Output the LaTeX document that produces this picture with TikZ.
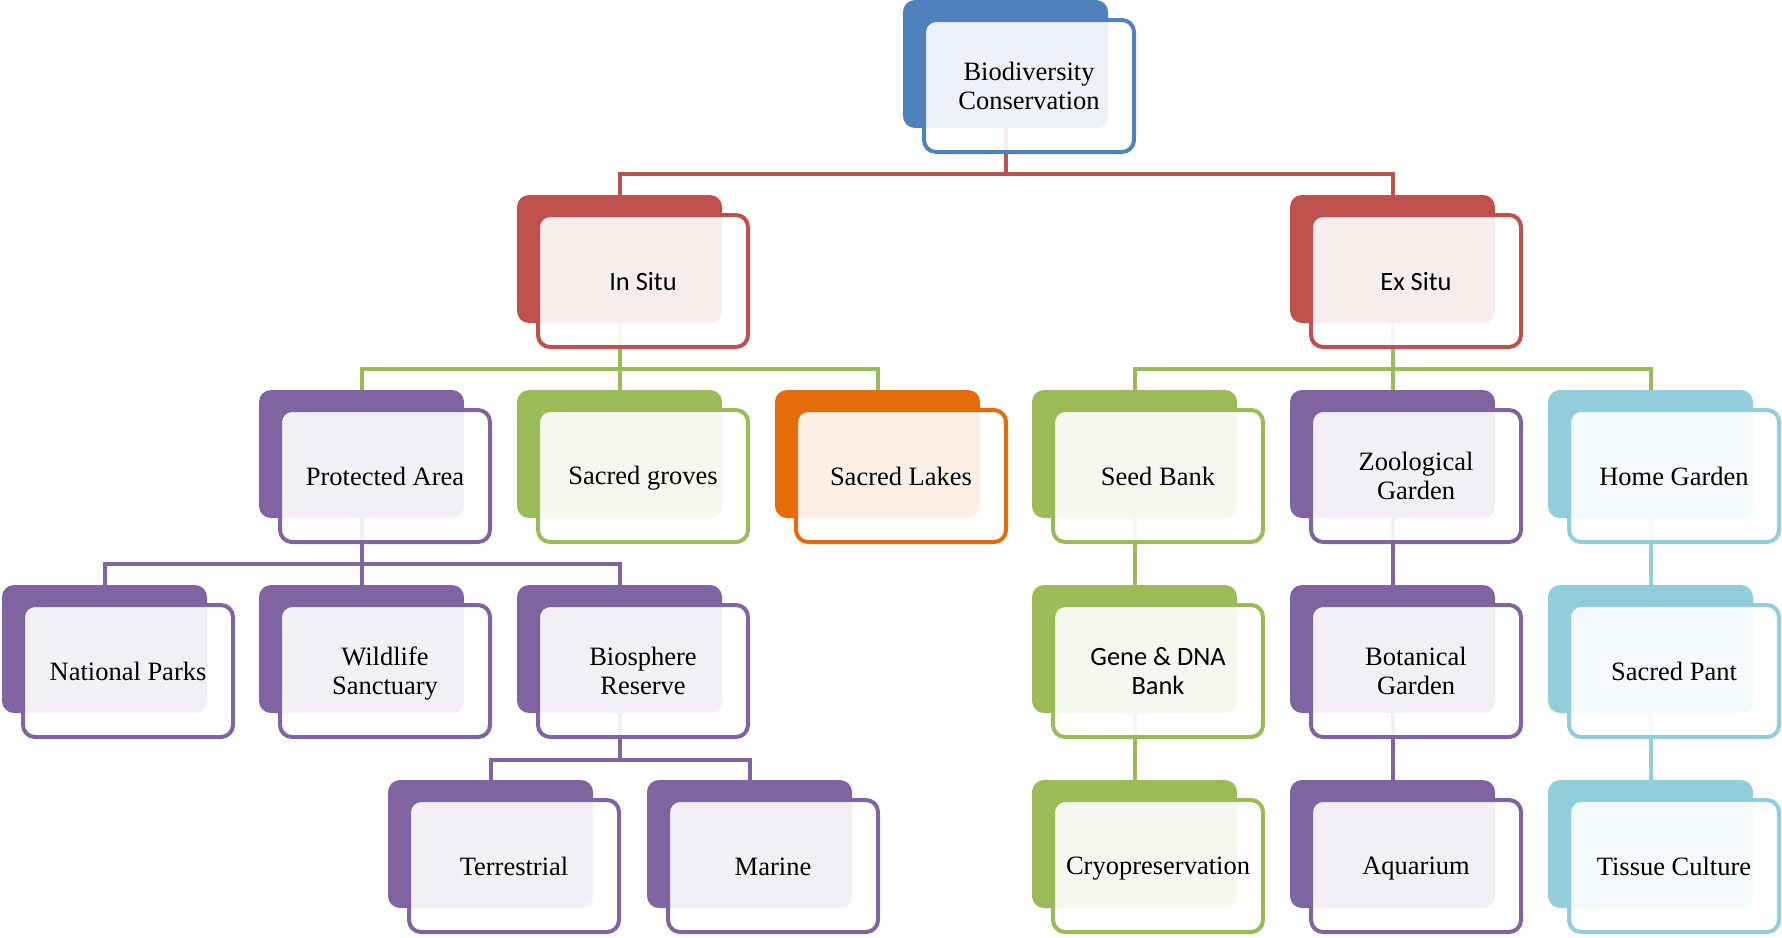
\documentclass[tikz,border=0pt]{standalone}
\usepackage{fontspec}
\setmainfont{Liberation Serif}
\newfontfamily\calibrifont{Carlito}
\definecolor{cblue}{HTML}{4F81BD}
\definecolor{cred}{HTML}{C0504D}
\definecolor{cgreen}{HTML}{9BBB59}
\definecolor{cpurple}{HTML}{8064A2}
\definecolor{corange}{HTML}{E46C0A}
\definecolor{caqua}{HTML}{92CDDC}
\tikzset{
  backbox/.style={rectangle, rounded corners=6pt, minimum width=102.5pt, minimum height=64pt, inner sep=0pt, outer sep=0pt, draw=none},
  frontbox/.style={rectangle, rounded corners=6pt, minimum width=105pt, minimum height=66pt, inner sep=2pt, outer sep=0pt, line width=2pt, fill=white, fill opacity=0.9, text opacity=1, align=center, text=black},
  conn/.style={line width=2pt},
  serifl/.style={font=\fontsize{13.25}{14.3}\selectfont},
  sansl/.style={font=\calibrifont\fontsize{13.2}{14.5}\selectfont},
}
\newcommand\topstrut{\rule{0pt}{11.7pt}}
\newcommand\botstrut{\rule[-2.6pt]{0pt}{2.6pt}}
\newcommand\backpart[4]{\node[backbox, fill=#4] (#1-b) at (#2+102.5, #3+64) {};}
\newcommand\frontpart[6]{\node[frontbox, draw=#4, #5] (#1) at (#2+126, #3+86) {\topstrut #6\botstrut};}
\begin{document}
\begin{tikzpicture}[x=0.5pt, y=-0.5pt]
\useasboundingbox (0,0) rectangle (1782,937);
% back boxes
\backpart{top}{903}{0}{cblue}
\backpart{insitu}{517}{195}{cred}
\backpart{exsitu}{1290}{195}{cred}
\backpart{protected}{259}{390}{cpurple}
\backpart{groves}{517}{390}{cgreen}
\backpart{lakes}{775}{390}{corange}
\backpart{seed}{1032}{390}{cgreen}
\backpart{zoo}{1290}{390}{cpurple}
\backpart{home}{1548}{390}{caqua}
\backpart{national}{2}{585}{cpurple}
\backpart{wildlife}{259}{585}{cpurple}
\backpart{biosphere}{517}{585}{cpurple}
\backpart{gene}{1032}{585}{cgreen}
\backpart{botanical}{1290}{585}{cpurple}
\backpart{sacredpant}{1548}{585}{caqua}
\backpart{terrestrial}{388}{780}{cpurple}
\backpart{marine}{647}{780}{cpurple}
\backpart{cryo}{1032}{780}{cgreen}
\backpart{aquarium}{1290}{780}{cpurple}
\backpart{tissue}{1548}{780}{caqua}
% connector levels
\coordinate (r1) at (0,174);
\coordinate (r2) at (0,369);
\coordinate (r3) at (0,564);
\coordinate (r4) at (0,760);
% connectors
\draw[conn, cred] (insitu-b.north) -- (insitu-b.north |- r1) -- (exsitu-b.north |- r1) -- (exsitu-b.north);
\draw[conn, cred] (top-b.south) -- (top-b.south |- r1);
\draw[conn, cgreen] (protected-b.north) -- (protected-b.north |- r2) -- (lakes-b.north |- r2) -- (lakes-b.north);
\draw[conn, cgreen] (insitu-b.south) -- (groves-b.north);
\draw[conn, cgreen] (seed-b.north) -- (seed-b.north |- r2) -- (home-b.north |- r2) -- (home-b.north);
\draw[conn, cgreen] (exsitu-b.south) -- (zoo-b.north);
\draw[conn, cpurple] (national-b.north) -- (national-b.north |- r3) -- (biosphere-b.north |- r3) -- (biosphere-b.north);
\draw[conn, cpurple] (protected-b.south) -- (wildlife-b.north);
\draw[conn, cpurple] (terrestrial-b.north) -- (terrestrial-b.north |- r4) -- (marine-b.north |- r4) -- (marine-b.north);
\draw[conn, cpurple] (biosphere-b.south) -- (biosphere-b.south |- r4);
\draw[conn, cgreen] (seed-b.south) -- (gene-b.north);
\draw[conn, cgreen] (gene-b.south) -- (cryo-b.north);
\draw[conn, cpurple] (zoo-b.south) -- (botanical-b.north);
\draw[conn, cpurple] (botanical-b.south) -- (aquarium-b.north);
\draw[conn, caqua] (home-b.south) -- (sacredpant-b.north);
\draw[conn, caqua] (sacredpant-b.south) -- (tissue-b.north);
% front boxes
\frontpart{top}{903}{0}{cblue}{serifl}{Biodiversity\\Conservation}
\frontpart{insitu}{517}{195}{cred}{sansl}{In Situ}
\frontpart{exsitu}{1290}{195}{cred}{sansl}{Ex Situ}
\frontpart{protected}{259}{390}{cpurple}{serifl}{Protected Area}
\frontpart{groves}{517}{390}{cgreen}{serifl}{Sacred groves}
\frontpart{lakes}{775}{390}{corange}{serifl}{Sacred Lakes}
\frontpart{seed}{1032}{390}{cgreen}{serifl}{Seed Bank}
\frontpart{zoo}{1290}{390}{cpurple}{serifl}{Zoological\\Garden}
\frontpart{home}{1548}{390}{caqua}{serifl}{Home Garden}
\frontpart{national}{2}{585}{cpurple}{serifl}{National Parks}
\frontpart{wildlife}{259}{585}{cpurple}{serifl}{Wildlife\\Sanctuary}
\frontpart{biosphere}{517}{585}{cpurple}{serifl}{Biosphere\\Reserve}
\frontpart{gene}{1032}{585}{cgreen}{sansl}{Gene \& DNA\\Bank}
\frontpart{botanical}{1290}{585}{cpurple}{serifl}{Botanical\\Garden}
\frontpart{sacredpant}{1548}{585}{caqua}{serifl}{Sacred Pant}
\frontpart{terrestrial}{388}{780}{cpurple}{serifl}{Terrestrial}
\frontpart{marine}{647}{780}{cpurple}{serifl}{Marine}
\frontpart{cryo}{1032}{780}{cgreen}{serifl}{Cryopreservation}
\frontpart{aquarium}{1290}{780}{cpurple}{serifl}{Aquarium}
\frontpart{tissue}{1548}{780}{caqua}{serifl}{Tissue Culture}
\end{tikzpicture}
\end{document}
